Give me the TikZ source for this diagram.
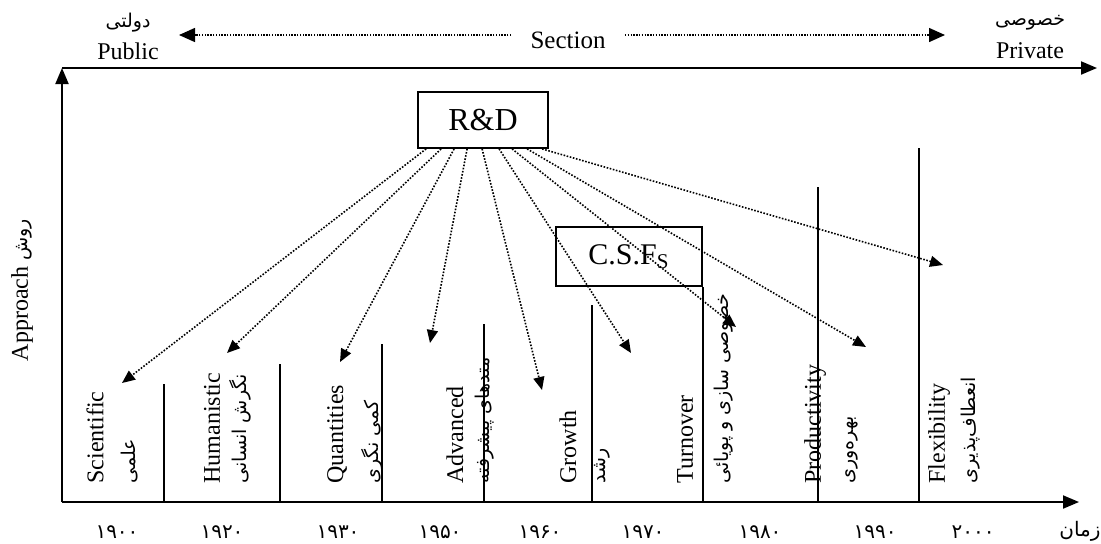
\documentclass[tikz,border=0pt]{standalone}
\usepackage{fontspec}
\setmainfont{Liberation Serif}
\newfontfamily\fafont[Script=Arabic]{DejaVu Sans}
\TeXXeTstate=1
\usetikzlibrary{arrows.meta}
\usetikzlibrary{calc}

\newcommand{\fatext}[1]{{\fafont\beginR #1\endR}}

\tikzset{
  axisline/.style={line width=1pt,-{Triangle[length=8pt,width=6.5pt]}},
  divider/.style={line width=0.7pt},
  rdarrow/.style={line width=0.8pt,dash pattern=on 0.8pt off 0.8pt,-{Triangle[length=6.5pt,width=5.5pt]}},
  sectarrow/.style={line width=0.7pt,dash pattern=on 0.7pt off 0.7pt,-{Triangle[length=8pt,width=7pt]}},
  box/.style={draw,line width=0.9pt,inner sep=0pt},
  era/.style={rotate=90,anchor=west,inner sep=0pt,font=\fontsize{12}{14}\selectfont},
  erafa/.style={rotate=90,anchor=west,inner sep=0pt,font=\fafont\fontsize{9.5}{11}\selectfont},
  year/.style={inner sep=0pt,font=\fafont\fontsize{10}{12}\selectfont},
}

\begin{document}
\begin{tikzpicture}[x=0.5pt,y=-0.5pt]
                \useasboundingbox (0,0) rectangle (1101,543);

                \coordinate (O) at (62,502);
                \coordinate (topleft) at (62,68);
                \coordinate (topend) at (1097,68);
                \coordinate (timeend) at (1079,502);

                \draw[axisline] (topleft) -- (topend);
                \draw[axisline] (O) -- (topleft);
                \draw[axisline] (O) -- (timeend);

                \node[font=\fafont\fontsize{9.5}{11}\selectfont] (publicfa) at (128,23) {\beginR دولتی\endR};
                \node[font=\fontsize{12}{14}\selectfont] (public) at (128,51) {Public};
                \node[font=\fafont\fontsize{9.5}{11}\selectfont] (privatefa) at (1030,23) {\beginR خصوصی\endR};
                \node[font=\fontsize{12}{14}\selectfont] (private) at (1030,51) {Private};
                \node[font=\fontsize{12.5}{14}\selectfont,inner xsep=9.5pt] (section) at (568,40) {Section};

                \coordinate (pubtip) at (179,35);
                \coordinate (privtip) at (945,35);
                \draw[sectarrow] (section.west |- pubtip) -- (pubtip);
                \draw[sectarrow] (section.east |- privtip) -- (privtip);

                \node[rotate=90,font=\fontsize{12}{14}\selectfont] (approach) at (22,290) {Approach {\fontsize{9.5}{11}\selectfont\fatext{روش}}};

                \node[box,minimum width=65pt,minimum height=28pt,font=\fontsize{16}{18}\selectfont] (rd) at (483,120) {R\&D};
                \node[box,minimum width=73pt,minimum height=29.5pt,font=\fontsize{15}{17}\selectfont] (csf) at (629,256.5) {C.S.F\textsubscript{S}};

                \draw[divider] (164,502) -- (164,384);
                \draw[divider] (280,502) -- (280,364);
                \draw[divider] (382,502) -- (382,344);
                \draw[divider] (484,502) -- (484,324);
                \draw[divider] (592,502) -- (592,305);
                \draw[divider] (csf.south east |- O) -- (csf.south east);
                \draw[divider] (818,502) -- (818,187);
                \draw[divider] (919,502) -- (919,148);

                \node[era] (sci) at (95,484) {Scientific};
                \node[erafa] (scifa) at (130,484) {\beginR علمی\endR};
                \node[era] (hum) at (212,484) {Humanistic};
                \node[erafa] (humfa) at (240,484) {\beginR نگرش انسانی\endR};
                \node[era] (quant) at (337,484) {Quantities};
                \node[erafa] (quantfa) at (372,484) {\beginR کمی نگری\endR};
                \node[era] (adv) at (455,484) {Advanced};
                \node[erafa] (advfa) at (485,484) {\beginR متدهای پیشرفته\endR};
                \node[era] (grow) at (568,484) {Growth};
                \node[erafa] (growfa) at (602,484) {\beginR رشد\endR};
                \node[era] (turn) at (685,484) {Turnover};
                \node[erafa] (turnfa) at (724,484) {\beginR خصوصی سازی و پویائی\endR};
                \node[era] (prod) at (815,484) {Productivity};
                \node[erafa] (prodfa) at (852,484) {\beginR بهره‌وری\endR};
                \node[era] (flex) at (939,484) {Flexibility};
                \node[erafa] (flexfa) at (971,484) {\beginR انعطاف‌پذیری\endR};

                \node[year] (y1900) at (117,532) {۱۹۰۰};
                \node[year] (y1920) at (222,532) {۱۹۲۰};
                \node[year] (y1930) at (338,532) {۱۹۳۰};
                \node[year] (y1950) at (440,532) {۱۹۵۰};
                \node[year] (y1960) at (540,532) {۱۹۶۰};
                \node[year] (y1970) at (643,532) {۱۹۷۰};
                \node[year] (y1980) at (760,532) {۱۹۸۰};
                \node[year] (y1990) at (875,532) {۱۹۹۰};
                \node[year] (y2000) at (973,532) {۲۰۰۰};
                \node[inner sep=0pt,anchor=east,font=\fafont\fontsize{10}{12}\selectfont] (time) at (1101,531) {\beginR زمان\endR};

                \coordinate (tsci) at (122,383);
                \coordinate (thum) at (227,353);
                \coordinate (tquant) at (340,362);
                \coordinate (tadv) at (430,343);
                \coordinate (tgrow) at (542,390);
                \coordinate (tgrowth) at (631,353);
                \coordinate (tturn) at (736,327);
                \coordinate (tprod) at (866,347);
                \coordinate (tflex) at (943,265);

                \draw[rdarrow] ($(rd.south west)+(9,0)$) -- (tsci);
                \draw[rdarrow] ($(rd.south west)+(24,0)$) -- (thum);
                \draw[rdarrow] ($(rd.south west)+(37,0)$) -- (tquant);
                \draw[rdarrow] ($(rd.south west)+(50,0)$) -- (tadv);
                \draw[rdarrow] ($(rd.south west)+(65,0)$) -- (tgrow);
                \draw[rdarrow] ($(rd.south west)+(82,0)$) -- (tgrowth);
                \draw[rdarrow] ($(rd.south west)+(95,0)$) -- (tturn);
                \draw[rdarrow] ($(rd.south west)+(110,0)$) -- (tprod);
                \draw[rdarrow] ($(rd.south west)+(125,0)$) -- (tflex);
            \end{tikzpicture}
\end{document}
